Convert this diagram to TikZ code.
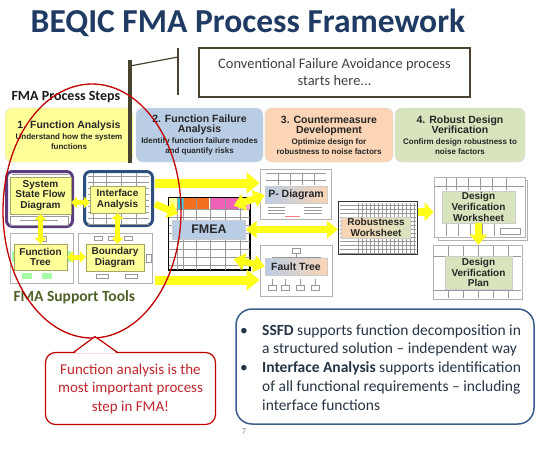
\documentclass[tikz,border=0pt]{standalone}
\usepackage{fontspec}
\setmainfont{Carlito}
\newfontfamily\arialf{Liberation Sans}
\usetikzlibrary{arrows.meta,calc}
\definecolor{titleblue}{HTML}{1F3B63}
\definecolor{postc}{HTML}{4A4330}
\definecolor{s1c}{HTML}{FFFF99}
\definecolor{s2c}{HTML}{B9CDE5}
\definecolor{s3c}{HTML}{FBD5B5}
\definecolor{s4c}{HTML}{D7E4BD}
\definecolor{redc}{HTML}{C00000}
\definecolor{calltext}{HTML}{C0262D}
\definecolor{bluebd}{HTML}{3B5E8C}
\definecolor{infotext}{HTML}{253545}
\definecolor{ssfdc}{HTML}{5B3C7E}
\definecolor{iac}{HTML}{2E4F7D}
\definecolor{arry}{HTML}{FFFF1A}
\definecolor{labtext}{HTML}{262626}
\definecolor{olivec}{HTML}{4F6228}
\definecolor{fcyan}{HTML}{33CCDD}
\definecolor{forange}{HTML}{F07020}
\definecolor{fpink}{HTML}{F060B8}
\newcommand\hdf{\arialf\bfseries\fontsize{10.5}{12.5}\selectfont}
\newcommand\sbf{\arialf\bfseries\fontsize{8}{10}\selectfont}
\newcommand\lbf{\arialf\bfseries\fontsize{10}{10.8}\selectfont}
\begin{document}
\begin{tikzpicture}[x=1pt,y=-1pt,
  stepbox/.style={rounded corners=7pt, draw=black!15, fill=#1, minimum height=54pt, align=center, inner sep=1pt, font=\sbf, text=labtext},
  doc/.style={draw=black!30, fill=white, line width=0.6pt},
  gl/.style={draw=black!40, line width=0.3pt},
  ylab/.style={draw=black!35!s1c, fill=s1c, align=center, inner sep=0pt, font=\lbf, text=labtext},
  dlab/.style={draw=black!20, align=center, inner sep=0pt, font=\lbf, text=labtext},
  yarrs/.style={line width=5pt, arry, {Triangle[width=12pt,length=6pt]}-{Triangle[width=12pt,length=6pt]}},
  yarrb/.style={line width=9pt, arry, -{Triangle[width=20pt,length=13pt]}},
  yarrm/.style={line width=7pt, arry, {Triangle[width=17pt,length=11pt]}-{Triangle[width=17pt,length=11pt]}},
  yarrm1/.style={line width=7pt, arry, -{Triangle[width=17pt,length=10pt]}},
]
\useasboundingbox (0,0) rectangle (540,450);
\fill[white] (0,0) rectangle (540,450);

% title
\node[anchor=base, text=titleblue, font=\bfseries\fontsize{33.5}{36}\selectfont] (title) at (248,32) {BEQIC FMA Process Framework};

% conventional box
\node[draw=postc, line width=1.8pt, minimum width=271pt, minimum height=49pt, align=center, text=black!75, font=\fontsize{14.5}{17}\selectfont] (conv) at (334.5,72.5) {Conventional Failure Avoidance process\\starts here...};

\node[anchor=west, text=black!90, font=\bfseries\fontsize{14}{16}\selectfont] (fps) at (8,97) {FMA Process Steps};

% steps
\node[stepbox=s1c, minimum width=128pt] (s1) at (69,135) {\hdf 1. Function Analysis\\[1pt] \sbf Understand how the system\\ \sbf functions};
\node[stepbox=s2c, minimum width=127pt] (s2) at (199.5,135) {\hdf 2. Function Failure\\ \hdf Analysis\\[1pt] \sbf Identify function failure modes\\ \sbf and quantify risks};
\node[stepbox=s3c, minimum width=128pt] (s3) at (329,135) {\hdf 3. Countermeasure\\ \hdf Development\\[1pt] \sbf Optimize design for\\ \sbf robustness to noise factors};
\node[stepbox=s4c, minimum width=130pt] (s4) at (460,135) {\hdf 4. Robust Design\\ \hdf Verification\\[1pt] \sbf Confirm design robustness to\\ \sbf noise factors};

% post
\coordinate (posttop) at (130,60);
\coordinate (postbot) at (130,163);
\coordinate (bartop) at (178,48);
\coordinate (barbot) at (178,95);
\coordinate (armA) at (130,66);
\coordinate (armB) at (178,57);
\draw[postc, line width=4.5pt] (posttop) -- (postbot);
\draw[postc, line width=1.2pt] (bartop) -- (barbot);
\draw[postc, line width=1.2pt] (armA) -- (armB);

% support tools
\node[draw=ssfdc, line width=3pt, rounded corners=6pt, fill=white, minimum width=66pt, minimum height=55pt] (ssfdout) at (39.5,199) {};
\foreach \yy in {174,177} \draw[gl] (12,\yy) -- (68,\yy);
\draw[gl] (10,216) rectangle (68,225);
\draw[gl] (20,220.5) -- (58,220.5);
\node[draw=iac, line width=3pt, rounded corners=6pt, fill=white, minimum width=68pt, minimum height=54pt] (iaout) at (118.5,198.5) {};
\foreach \yy in {176,182,...,224} \draw[gl] (88,\yy) -- (149,\yy);
\foreach \xx in {93,106,121,136} \draw[gl] (\xx,173) -- (\xx,224);
\node[doc, minimum width=63pt, minimum height=50pt] (ftdoc) at (41.5,258) {};
\fill[green!35] (22,273) rectangle (32,279);
\fill[green!35] (42,273) rectangle (52,279);
\fill[green!35] (12,251) rectangle (15,262);
\fill[green!35] (67,251) rectangle (71,262);
\draw[gl] (40,236) rectangle (46,241);
\node[doc, minimum width=74pt, minimum height=50pt] (bddoc) at (115,258) {};
\foreach \xx in {94,108,124} \draw[gl] (\xx,236) rectangle ++(8,4);
\foreach \xx in {96,125} \draw[gl] (\xx,274) rectangle ++(12,4);
\draw[gl] (146,254) rectangle (151,262);

\node[ylab, minimum width=61pt, minimum height=37pt] (ssfdl) at (40.5,195.5) {System\\State Flow\\Diagram};
\node[ylab, minimum width=55pt, minimum height=27pt] (ialab) at (117.5,199.5) {Interface\\Analysis};
\node[ylab, minimum width=53pt, minimum height=26pt] (ftl) at (40.5,257) {Function\\Tree};
\node[ylab, minimum width=58pt, minimum height=27pt] (bdl) at (115,257.5) {Boundary\\Diagram};

\coordinate (a5) at ([yshift=-7pt]ssfdl.east);
\draw[yarrs] (a5) -- (a5 -| ialab.west);
\draw[yarrs] (ssfdl.south) -- (ftl.north);
\draw[yarrs] (ialab.south) -- (ialab.south |- bdl.north);
\draw[yarrs] (ftl.east) -- (ftl.east -| bdl.west);

\node[anchor=west, text=olivec, font=\bfseries\fontsize{15.5}{17}\selectfont] (fst) at (10,297) {FMA Support Tools};

% FMEA document
\node[draw=black, line width=1pt, fill=white, minimum width=81pt, minimum height=72pt] (fmeadoc) at (209,233.5) {};
\fill[s1c] (168.5,197.5) rectangle (177,209);
\fill[fcyan] (177,197.5) rectangle (183,209);
\fill[forange] (183,197.5) rectangle (196,209);
\fill[forange] (197,197.5) rectangle (209,209);
\fill[fpink] (210,197.5) rectangle (239,209);
\fill[fpink!60] (240,197.5) rectangle (249.5,209);
\foreach \xx in {177,183,196,210,225,240} \draw[gl] (\xx,197) -- (\xx,270);
\foreach \yy in {209,217,...,265} \draw[gl] (168,\yy) -- (250,\yy);
\draw[draw=black, line width=1pt] (fmeadoc.north west) rectangle (fmeadoc.south east);

% P-Diagram document
\node[doc, minimum width=71pt, minimum height=50pt] (pddoc) at (295.5,194) {};
\foreach \yy in {173,180} \draw[gl] (266,\yy) -- (326,\yy);
\foreach \xx in {278,290,302,314} \draw[gl] (\xx,173) -- (\xx,185);
\foreach \yy in {207,210,213} {\draw[gl] (268,\yy) -- (285,\yy); \draw[gl] (304,\yy) -- (322,\yy);}
\draw[red!50, line width=0.3pt] (285,216) -- (300,216);

% Fault tree document
\node[doc, minimum width=72pt, minimum height=51pt] (ftdoc2) at (296,270.5) {};
\draw[gl] (292,248) rectangle (300,253);
\draw[gl] (296,253) -- (296,257) (272,257) -- (320,257) (272,257) -- (272,262) (320,257) -- (320,262);
\foreach \xx in {272,285,300,315} \draw[gl] (\xx,279) -- (\xx,285) (\xx-4,285) rectangle (\xx+4,290);

% Robustness worksheet document
\node[draw=black!80, line width=1.2pt, fill=white, minimum width=79pt, minimum height=53pt] (rwdoc) at (378,228) {};
\foreach \yy in {205,209,...,253} \draw[gl] (340,\yy) -- (416,\yy);
\foreach \xx in {358,362,...,414} \draw[gl] (\xx,203) -- (\xx,253);

% DV worksheet document
\draw[doc] (438,180) rectangle (527,240);
\node[doc, minimum width=91pt, minimum height=60pt] (dvwdoc) at (479.5,207) {};
\foreach \xx in {446,456,468,480,492,506} \draw[gl] (\xx,178) -- (\xx,190);
\draw[gl] (435,186) -- (524,186);
\foreach \xx in {446,458,470,482,494} \draw[gl] (\xx,224) -- (\xx,236);
\draw[gl] (500,228) rectangle (520,234);

% DV plan document
\node[doc, minimum width=89pt, minimum height=54pt] (dvpdoc) at (477.5,272) {};
\foreach \xx in {448,463,478,493,508} \draw[gl] (\xx,246) -- (\xx,298);
\draw[gl] (434,256) -- (521,256);
\draw[gl] (434,290) -- (521,290);

% document labels
\node[dlab, fill=s2c, minimum width=73pt, minimum height=19pt, font=\arialf\bfseries\fontsize{12.5}{14}\selectfont] (fmealab) at (209,229.5) {FMEA};
\node[dlab, left color=s2c, right color=s3c, minimum width=62pt, minimum height=17pt, font=\arialf\bfseries\fontsize{10.5}{12}\selectfont] (pdl) at (296,195) {P- Diagram};
\node[dlab, left color=s2c, right color=s3c, minimum width=62pt, minimum height=17pt, font=\arialf\bfseries\fontsize{10.5}{12}\selectfont] (fault) at (296,266.5) {Fault Tree};
\node[dlab, left color=s3c, middle color=s3c, right color=s4c, minimum width=69pt, minimum height=21pt] (rwl) at (376,227.5) {Robustness\\Worksheet};
\node[dlab, fill=s4c, minimum width=73pt, minimum height=32pt] (dvwl) at (478.5,207) {Design\\Verification\\Worksheet};
\node[dlab, fill=s4c, minimum width=67pt, minimum height=33pt] (dvpl) at (478.5,272.5) {Design\\Verification\\Plan};

% big arrows
\coordinate (a1) at (155,183);
\coordinate (a2) at (155,280);
\coordinate (a3) at (155,204);
\draw[yarrb] (a1) -- (a1 -| pddoc.west);
\draw[yarrb] (a2) -- (a2 -| ftdoc2.west);
\draw[yarrm1] (a3) -- ([xshift=10pt,yshift=-17pt]fmeadoc.north west);
\draw[yarrm] ([xshift=-12pt,yshift=14pt]fmealab.north east) -- (pdl.west);
\draw[yarrm] ([xshift=-12pt,yshift=-20pt]fmealab.south east) -- (fault.west);
\draw[yarrm] (fmealab.east) -- (fmealab.east -| rwdoc.west);
\coordinate (a4) at ([yshift=-11pt]rwdoc.north east);
\draw[line width=8pt, arry, -{Triangle[width=18pt,length=9pt]}] (a4) -- (a4 -| dvwdoc.west);
\draw[line width=7pt, arry, -{Triangle[width=17pt,length=10pt]}] (dvwl.south) -- (dvwl.south |- dvpdoc.north);

% red ellipse
\draw[redc, line width=1.3pt] (92,211) ellipse [x radius=89pt, y radius=127pt];

% callout
\node[draw=redc, line width=1.2pt, fill=white, rounded corners=10pt, minimum width=170pt, minimum height=72pt, align=center, text=calltext, font=\fontsize{15}{18.5}\selectfont] (callout) at (130.5,388.5) {Function analysis is the\\most important process\\step in FMA!};
\fill[white] (74.5,353.2) -- (95,337.5) -- (116.5,353.2) -- cycle;
\draw[redc, line width=1.2pt, line join=round] (73.5,352.4) -- (95,336.5) -- (117.5,352.4);

% info box
\node[draw=bluebd, line width=1.5pt, rounded corners=16pt, fill=white, minimum width=298pt, minimum height=115pt] (info) at (385,366.5) {};
\node[anchor=base west, inner sep=0pt, text=infotext, font=\fontsize{15.5}{18.8}\selectfont] (infotxt) at (240,335) {\begin{tabular}[t]{@{}p{22pt}@{}l@{}}
\textbullet & \textbf{SSFD} supports function decomposition in\\
 & a structured solution -- independent way\\
\textbullet & \textbf{Interface Analysis} supports identification\\
 & of all functional requirements -- including\\
 & interface functions
\end{tabular}};

\node[text=black!45, font=\fontsize{9}{10}\selectfont] (pg) at (244,432) {7};
\end{tikzpicture}
\end{document}
